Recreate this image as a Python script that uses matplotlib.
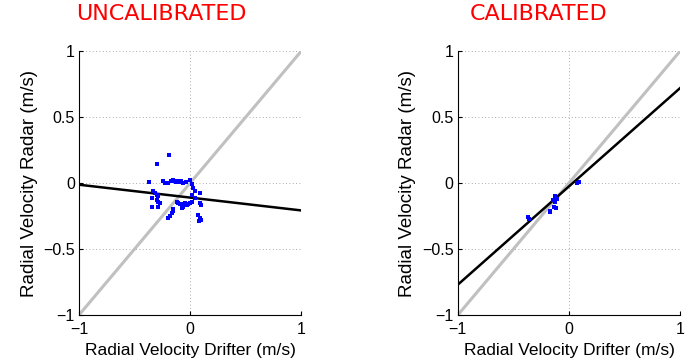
import numpy as np
import matplotlib
matplotlib.use("Agg")
import matplotlib.pyplot as plt

# drifter vs radar radial velocities (m/s)
unc_drifter = [-0.19, -0.30, -0.367, -0.246, -0.225,
               -0.20, -0.17, -0.155, -0.14, -0.125, -0.11, -0.095, -0.08, -0.065, -0.035, 0.0,
               0.015, 0.03, 0.045, 0.09, 0.015, 0.045, 0.015,
               -0.33, -0.315, -0.30, -0.285, -0.345, -0.30, -0.285, -0.345, -0.285, -0.27,
               -0.12, -0.105, -0.09, -0.075, -0.06, -0.045, -0.03, -0.015, 0.0,
               -0.075, -0.06, -0.15, -0.156, -0.165, -0.18, -0.195,
               0.075, 0.09, 0.096, 0.084, 0.09, 0.096]
unc_radar = [0.215, 0.144, 0.008, 0.013, 0.0,
             0.0, 0.012, 0.02, 0.012, 0.005, 0.015, 0.005, 0.012, 0.0, 0.008, 0.02,
             -0.008, -0.04, -0.06, -0.075, -0.09, -0.115, -0.14,
             -0.063, -0.075, -0.09, -0.10, -0.115, -0.125, -0.14, -0.18, -0.18, -0.15,
             -0.14, -0.15, -0.16, -0.165, -0.16, -0.15, -0.165, -0.16, -0.15,
             -0.19, -0.185, -0.20, -0.215, -0.227, -0.25, -0.265,
             -0.24, -0.265, -0.278, -0.285, -0.15, -0.165]

cal_drifter = [0.09, 0.07, -0.13, -0.11, -0.14, -0.13, -0.12, -0.135, -0.12, -0.17, -0.17, -0.37, -0.36]
cal_radar = [0.005, 0.0, -0.10, -0.12, -0.13, -0.14, -0.12, -0.18, -0.19, -0.21, -0.22, -0.255, -0.27]

# fitted regression lines (slope, intercept)
unc_fit = (-0.0975, -0.11)
cal_fit = (0.745, -0.025)

titles = ["UNCALIBRATED", "CALIBRATED"]
xticks = [-1, 0, 1]
yticks = [-1, -0.5, 0, 0.5, 1]
ytick_labels = ["\u22121", "\u22120.5", "0", "0.5", "1"]
xtick_labels = ["\u22121", "0", "1"]

plt.rcParams['font.family'] = ['Liberation Sans', 'DejaVu Sans']

fig = plt.figure(figsize=(6.99, 3.64), dpi=100)
ax1 = fig.add_axes([0.113, 0.1346, 0.318, 0.725])
ax2 = fig.add_axes([0.655, 0.1346, 0.318, 0.725])

datasets = [(ax1, unc_drifter, unc_radar, unc_fit),
            (ax2, cal_drifter, cal_radar, cal_fit)]

xx = np.array([-1, 1])
for ax, xd, yd, (m, b) in datasets:
    ax.plot(xx, xx, color="#c0c0c0", lw=2.2, zorder=2)
    ax.plot(xx, m * xx + b, color="black", lw=1.8, zorder=3)
    ax.scatter(xd, yd, s=5, color="blue", marker="s", linewidths=0, zorder=4)
    ax.set_xlim(-1, 1)
    ax.set_ylim(-1, 1)
    ax.set_xticks(xticks)
    ax.set_xticklabels(xtick_labels)
    ax.set_yticks(yticks)
    ax.set_yticklabels(ytick_labels)
    ax.grid(True, linestyle=(0, (1, 3)), color="#909090", lw=0.6)
    ax.tick_params(direction="in", length=3, labelsize=11.5)
    ax.tick_params(axis="x", pad=5)
    ax.tick_params(axis="y", pad=3)
    for s in ["top", "right"]:
        ax.spines[s].set_visible(False)
    ax.set_xlabel("Radial Velocity Drifter (m/s)", fontsize=12.5, labelpad=4)
    ax.set_ylabel("Radial Velocity Radar (m/s)", fontsize=13.5, labelpad=4)
    ax.set_axisbelow(True)

fig.text(161 / 699, 1 - 14 / 364, titles[0], color="red", fontsize=16,
         family="DejaVu Sans", ha="center", va="center")
fig.text(539 / 699, 1 - 14 / 364, titles[1], color="red", fontsize=16,
         family="DejaVu Sans", ha="center", va="center")

fig.savefig("out.png", dpi=100)
